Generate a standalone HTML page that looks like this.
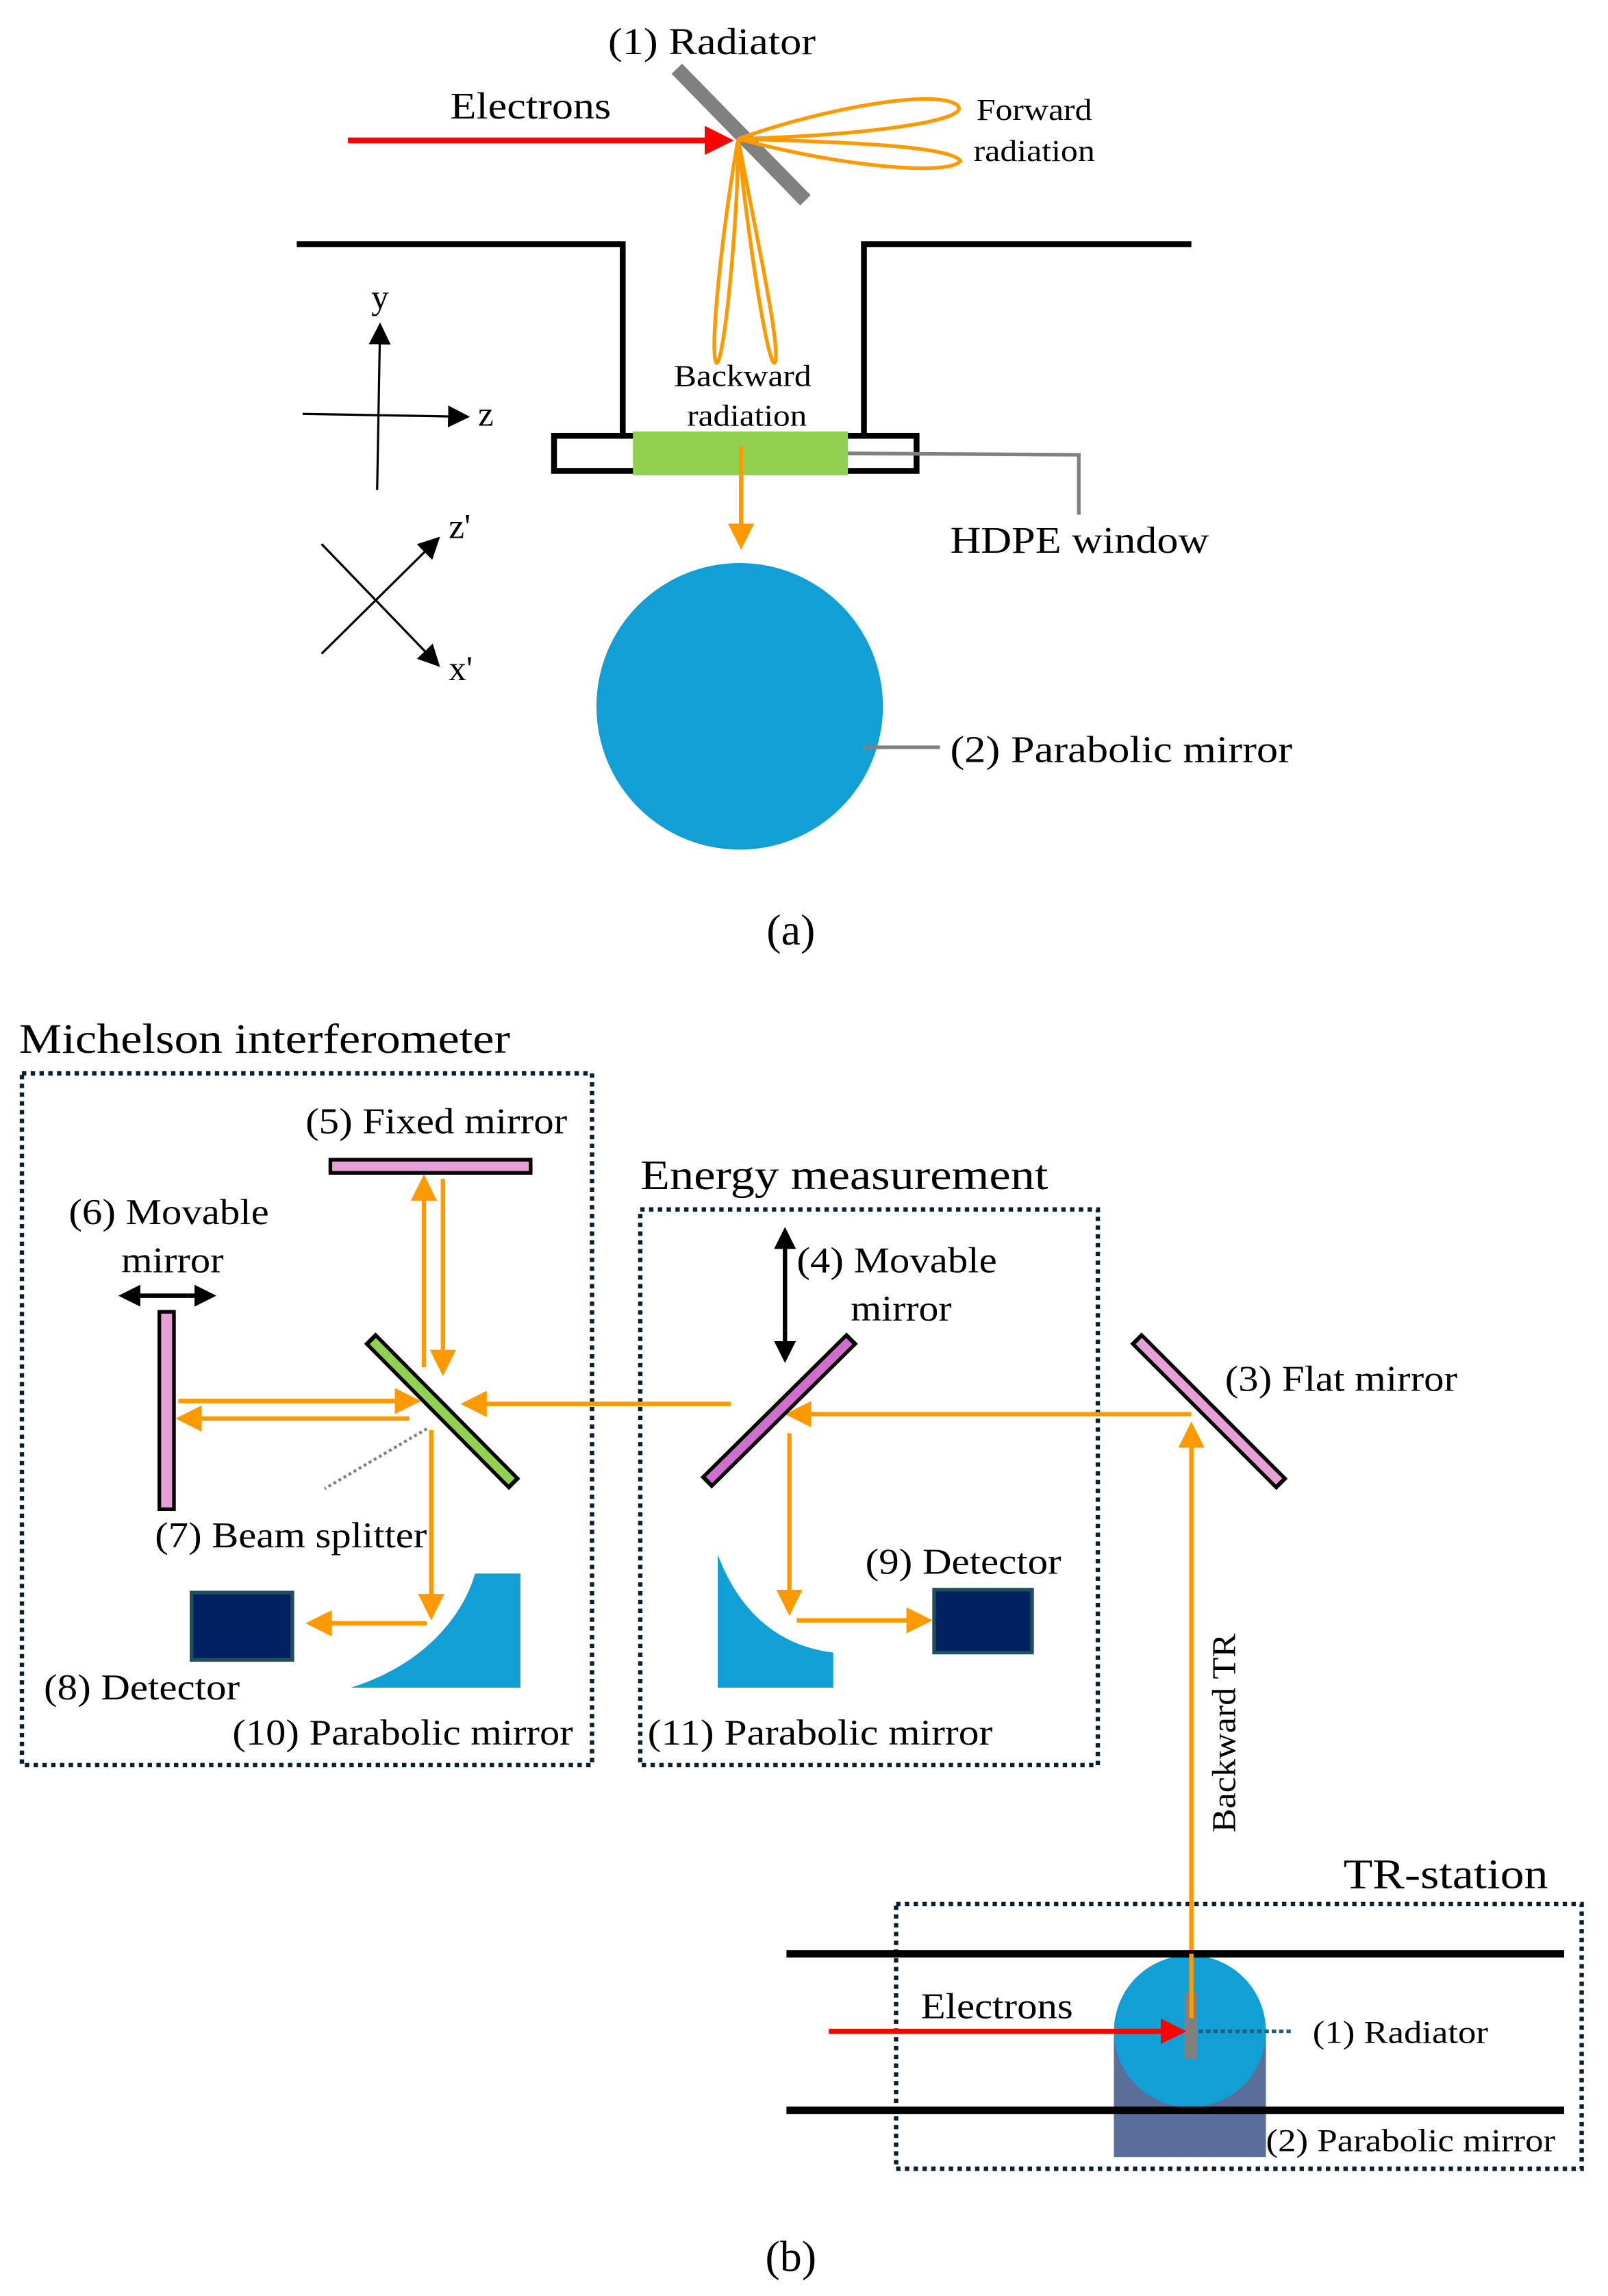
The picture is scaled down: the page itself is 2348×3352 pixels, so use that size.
<!DOCTYPE html>
<html><head><meta charset="utf-8"><style>html,body{margin:0;padding:0;background:#fff}svg{display:block}text{font-family:"Liberation Serif",serif;fill:#000}</style></head><body>
<svg width="2348" height="3352" viewBox="0 0 1100 1570" preserveAspectRatio="none" xmlns="http://www.w3.org/2000/svg">
<defs>
<marker id="ao" markerWidth="6" markerHeight="6" refX="5" refY="3" orient="auto" markerUnits="strokeWidth"><path d="M0,0 L6,3 L0,6 z" fill="#ff9900"/></marker>
<marker id="ar" markerWidth="5" markerHeight="5" refX="4" refY="2.5" orient="auto" markerUnits="strokeWidth"><path d="M0,0 L5,2.5 L0,5 z" fill="#ff0000"/></marker>
<marker id="ak" markerWidth="10" markerHeight="10" refX="9" refY="5" orient="auto" markerUnits="strokeWidth"><path d="M0,0 L10,5 L0,10 z" fill="#000"/></marker>
<marker id="ak2" markerWidth="5" markerHeight="5" refX="4" refY="2.5" orient="auto" markerUnits="strokeWidth"><path d="M0,0 L5,2.5 L0,5 z" fill="#000"/></marker>
</defs>
<!-- (a) -->
<text x="416" y="37" font-size="26" textLength="142" lengthAdjust="spacingAndGlyphs">(1) Radiator</text>
<text x="308" y="81" font-size="26" textLength="110" lengthAdjust="spacingAndGlyphs">Electrons</text>
<line x1="238" y1="96" x2="498" y2="96" stroke="#ff0000" stroke-width="4" marker-end="url(#ar)"/>
<line x1="463" y1="47" x2="551" y2="137" stroke="#808080" stroke-width="10"/>
<g fill="none" stroke="#ff9900" stroke-width="2.5">
<path d="M505,95 C560,75 640,60 655,72 C665,82 600,92 505,95"/>
<path d="M505,95 C580,97 650,100 657,110 C650,120 580,115 505,95"/>
<path d="M505,95 C495,150 485,240 490,248 C495,252 505,150 505,95"/>
<path d="M505,95 C515,150 535,240 530,248 C525,252 510,150 505,95"/>
</g>
<text x="668" y="82" font-size="21" textLength="79" lengthAdjust="spacingAndGlyphs">Forward</text>
<text x="666" y="110" font-size="21" textLength="83" lengthAdjust="spacingAndGlyphs">radiation</text>
<polyline points="203,167 426,167 426,297" fill="none" stroke="#000" stroke-width="4"/>
<polyline points="591,297 591,167 815,167" fill="none" stroke="#000" stroke-width="4"/>
<rect x="379" y="298" width="248" height="24" fill="none" stroke="#000" stroke-width="4"/>
<rect x="433" y="295" width="147" height="30" fill="#92d050"/>
<text x="461" y="264" font-size="21" textLength="94" lengthAdjust="spacingAndGlyphs">Backward</text>
<text x="470" y="291" font-size="21" textLength="82" lengthAdjust="spacingAndGlyphs">radiation</text>
<line x1="507" y1="305" x2="507" y2="373" stroke="#ff9900" stroke-width="3" marker-end="url(#ao)"/>
<polyline points="580,310 738,311 738,352" fill="none" stroke="#808080" stroke-width="2.5"/>
<text x="650" y="378" font-size="26" textLength="177" lengthAdjust="spacingAndGlyphs">HDPE window</text>
<circle cx="506" cy="483" r="98" fill="#129fd6"/>
<line x1="590" y1="511" x2="643" y2="511" stroke="#808080" stroke-width="2.5"/>
<text x="650" y="521" font-size="26" textLength="234" lengthAdjust="spacingAndGlyphs">(2) Parabolic mirror</text>
<line x1="258" y1="335" x2="260" y2="222" stroke="#000" stroke-width="1.5" marker-end="url(#ak)"/>
<line x1="207" y1="283" x2="320" y2="285" stroke="#000" stroke-width="1.5" marker-end="url(#ak)"/>
<text x="254" y="211" font-size="24">y</text>
<text x="327" y="291" font-size="24">z</text>
<line x1="220" y1="447" x2="300" y2="368" stroke="#000" stroke-width="1.5" marker-end="url(#ak)"/>
<line x1="220" y1="372" x2="300" y2="455" stroke="#000" stroke-width="1.5" marker-end="url(#ak)"/>
<text x="307" y="368" font-size="24">z'</text>
<text x="307" y="465" font-size="24">x'</text>
<text x="541" y="646" font-size="30" text-anchor="middle">(a)</text>
<!-- (b) -->
<g fill="none" stroke="#0a2030" stroke-width="3" stroke-dasharray="3,3">
<rect x="15" y="734" width="390" height="473"/>
<rect x="438" y="827" width="313" height="380"/>
<rect x="613" y="1302" width="469" height="181"/>
</g>
<text x="13" y="720" font-size="29" textLength="336" lengthAdjust="spacingAndGlyphs">Michelson interferometer</text>
<text x="209" y="775" font-size="25" textLength="179" lengthAdjust="spacingAndGlyphs">(5) Fixed mirror</text>
<rect x="226" y="793" width="137" height="9" fill="#e6a0d8" stroke="#000" stroke-width="2.5"/>
<text x="47" y="837" font-size="25" textLength="137" lengthAdjust="spacingAndGlyphs">(6) Movable</text>
<text x="83" y="870" font-size="25" textLength="70" lengthAdjust="spacingAndGlyphs">mirror</text>
<line x1="100" y1="886" x2="128" y2="886" stroke="#000" stroke-width="3"/>
<line x1="100" y1="886" x2="84" y2="886" stroke="#000" stroke-width="3" marker-end="url(#ak2)"/>
<line x1="128" y1="886" x2="145" y2="886" stroke="#000" stroke-width="3" marker-end="url(#ak2)"/>
<rect x="109" y="897" width="10" height="135" fill="#e6a0d8" stroke="#000" stroke-width="2.5"/>
<line x1="253" y1="915" x2="352" y2="1015" stroke="#000" stroke-width="11"/>
<line x1="255" y1="917" x2="350" y2="1013" stroke="#92d050" stroke-width="6"/>
<g stroke="#ff9900" stroke-width="3" fill="none">
<line x1="290" y1="935" x2="290" y2="806" marker-end="url(#ao)"/>
<line x1="303" y1="806" x2="303" y2="938" marker-end="url(#ao)"/>
<line x1="122" y1="958" x2="285" y2="958" marker-end="url(#ao)"/>
<line x1="280" y1="970" x2="123" y2="970" marker-end="url(#ao)"/>
<line x1="500" y1="960" x2="318" y2="960" marker-end="url(#ao)"/>
<line x1="295" y1="978" x2="295" y2="1105" marker-end="url(#ao)"/>
<line x1="292" y1="1110" x2="212" y2="1110" marker-end="url(#ao)"/>
<line x1="815" y1="967" x2="540" y2="967" marker-end="url(#ao)"/>
<line x1="540" y1="980" x2="540" y2="1102" marker-end="url(#ao)"/>
<line x1="545" y1="1108" x2="635" y2="1108" marker-end="url(#ao)"/>
<line x1="815" y1="1380" x2="815" y2="975" marker-end="url(#ao)"/>
</g>
<line x1="292" y1="977" x2="222" y2="1018" stroke="#808080" stroke-width="2" stroke-dasharray="2,2"/>
<text x="106" y="1058" font-size="25" textLength="186" lengthAdjust="spacingAndGlyphs">(7) Beam splitter</text>
<rect x="131" y="1089" width="69" height="46" fill="#002060" stroke="#1f4e5f" stroke-width="2.5"/>
<path d="M240,1154 C285,1140 315,1110 325,1076 L356,1076 L356,1154 Z" fill="#129fd6"/>
<text x="30" y="1162" font-size="25" textLength="134" lengthAdjust="spacingAndGlyphs">(8) Detector</text>
<text x="159" y="1193" font-size="25" textLength="233" lengthAdjust="spacingAndGlyphs">(10) Parabolic mirror</text>
<text x="438" y="813" font-size="29" textLength="279" lengthAdjust="spacingAndGlyphs">Energy measurement</text>
<line x1="537" y1="860" x2="537" y2="910" stroke="#000" stroke-width="3"/>
<line x1="537" y1="860" x2="537" y2="842" stroke="#000" stroke-width="3" marker-end="url(#ak2)"/>
<line x1="537" y1="910" x2="537" y2="929" stroke="#000" stroke-width="3" marker-end="url(#ak2)"/>
<text x="545" y="870" font-size="25" textLength="137" lengthAdjust="spacingAndGlyphs">(4) Movable</text>
<text x="582" y="903" font-size="25" textLength="69" lengthAdjust="spacingAndGlyphs">mirror</text>
<line x1="483" y1="1014" x2="583" y2="915" stroke="#000" stroke-width="11"/>
<line x1="485" y1="1012" x2="581" y2="917" stroke="#d16fcf" stroke-width="6"/>
<path d="M491,1063 C505,1100 530,1125 570,1130 L570,1154 L491,1154 Z" fill="#129fd6"/>
<rect x="639" y="1087" width="67" height="43" fill="#002060" stroke="#1f4e5f" stroke-width="2.5"/>
<text x="592" y="1076" font-size="25" textLength="134" lengthAdjust="spacingAndGlyphs">(9) Detector</text>
<text x="443" y="1193" font-size="25" textLength="236" lengthAdjust="spacingAndGlyphs">(11) Parabolic mirror</text>
<line x1="777" y1="915" x2="877" y2="1015" stroke="#000" stroke-width="11"/>
<line x1="779" y1="917" x2="875" y2="1013" stroke="#e6a0d8" stroke-width="6"/>
<text x="838" y="951" font-size="25" textLength="159" lengthAdjust="spacingAndGlyphs">(3) Flat mirror</text>
<text transform="translate(845,1253) rotate(-90)" font-size="23" textLength="136" lengthAdjust="spacingAndGlyphs">Backward TR</text>
<text x="919" y="1291" font-size="29" textLength="140" lengthAdjust="spacingAndGlyphs">TR-station</text>
<rect x="762" y="1390" width="104" height="85" fill="#5b6e9a"/>
<circle cx="814" cy="1389" r="52" fill="#129fd6"/>
<line x1="538" y1="1336" x2="1070" y2="1336" stroke="#000" stroke-width="5"/>
<line x1="538" y1="1443" x2="1070" y2="1443" stroke="#000" stroke-width="5"/>
<rect x="810" y="1363" width="9" height="45" fill="#808080"/>
<line x1="815" y1="1336" x2="815" y2="1380" stroke="#ff9900" stroke-width="3"/>
<line x1="567" y1="1389" x2="808" y2="1389" stroke="#ff0000" stroke-width="3.5" marker-end="url(#ar)"/>
<text x="630" y="1380" font-size="25" textLength="104" lengthAdjust="spacingAndGlyphs">Electrons</text>
<line x1="820" y1="1389" x2="885" y2="1389" stroke="#1f5f80" stroke-width="2.5" stroke-dasharray="3,2"/>
<text x="898" y="1397" font-size="22" textLength="120" lengthAdjust="spacingAndGlyphs">(1) Radiator</text>
<text x="866" y="1471" font-size="22" textLength="198" lengthAdjust="spacingAndGlyphs">(2) Parabolic mirror</text>
<text x="541" y="1553" font-size="30" text-anchor="middle">(b)</text>
</svg>
</body></html>
